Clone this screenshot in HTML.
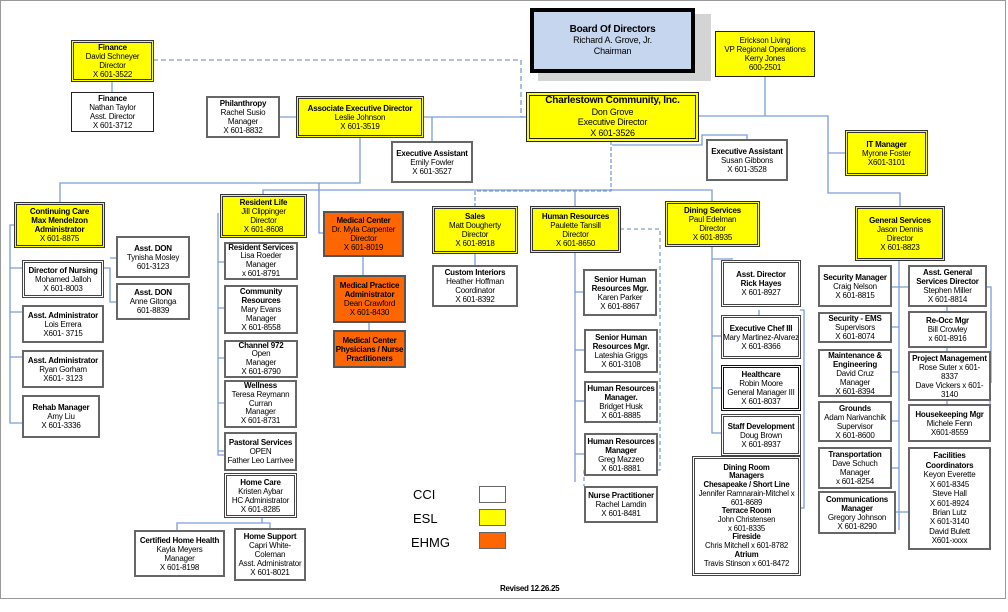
<!DOCTYPE html>
<html><head><meta charset="utf-8"><style>
body{margin:0;width:1008px;height:612px;background:#fff;position:relative;overflow:hidden;font-family:"Liberation Sans",Arial,sans-serif;}
.b{position:absolute;box-sizing:border-box;display:flex;flex-direction:column;justify-content:center;align-items:center;text-align:center;font-size:8px;line-height:9px;color:#000;letter-spacing:-0.2px;background:#fff;border:2px solid #666;white-space:nowrap;overflow:hidden}
.b b{font-weight:bold}
.y{background:#ffff00;border:3px double #333}
.o{background:#ff6600;border:2px solid #555}
.d{border:3px double #444}
.t{border:1px solid #222}
svg{position:absolute;left:0;top:0}
</style></head><body>
<svg width="1008" height="612">
<rect x="0.5" y="0.5" width="1005" height="598" fill="none" stroke="#999"/>
<g fill="none" stroke="#7a9dd6" stroke-width="1.3">
<path d="M153 60H521V117H526" stroke-dasharray="5,3"/>
<path d="M112 81V92"/>
<path d="M279 117H296M423 117H526M432 117V141"/>
<path d="M360 137V183H60V202"/>
<path d="M319 183V233H323"/>
<path d="M263 194V190H712V201M575 190V206"/>
<path d="M611 141V191H475V206" stroke-dasharray="4,2"/>
<path d="M698 116H828V193H900V206M765 116V76M828 153H845"/>
<path d="M612 145H702V135H747V139"/>
<path d="M620 229H660V470H584V486" stroke-dasharray="4,3"/>
<path d="M575 252V482M575 292H583M575 350H584M575 401H584M575 454H584"/>
<path d="M475 253V265M363 256V275M369 322V330"/>
<path d="M14 225H10V423H22M10 268H22M10 312H22M10 357H22"/>
<path d="M103 268H110V302H116M110 258H116"/>
<path d="M218 213V455H224M218 262H224M218 308H224M218 358H224M218 403H224M218 451H224"/>
<path d="M262 517V523H177V530M262 523H270V528"/>
<path d="M712 246V433H721M712 259H732V258M712 336H721M712 388H721M759 310V317H800"/>
<path d="M800 310H804V508H800"/>
<path d="M899 260V530M891 287H899M891 327H899M891 372H899M891 421H899M891 468H899M895 512H899M899 287H908"/>
<path d="M986 287H991V383M990 383V432H986M947 306V311M947 347V351M947 400V404"/>
<path d="M899 512H908"/>
</g>
</svg>
<div class="b" style="top:14px;left:538px;width:173px;height:67px;background:#d4d4d4;border:none"></div>
<div class="b" style="left:530px;top:8px;width:165px;height:65px;background:#c5d6ee;border:4px solid #000;font-size:9px;line-height:11px"><b style="font-size:10px">Board Of Directors</b>Richard A. Grove, Jr.<br>Chairman</div>
<div class="b y" style="left:715px;top:31px;width:100px;height:46px;border:1px solid #222">Erickson Living<br>VP Regional Operations<br>Kerry Jones<br>600-2501</div>
<div class="b y" style="left:71px;top:40px;width:83px;height:42px"><b>Finance</b>David Schneyer<br>Director<br>X 601-3522</div>
<div class="b t" style="left:71px;top:92px;width:83px;height:40px;border-width:1px"><b>Finance</b>Nathan Taylor<br>Asst. Director<br>X 601-3712</div>
<div class="b" style="left:206px;top:96px;width:74px;height:42px"><b>Philanthropy</b>Rachel Susio<br>Manager<br>X 601-8832</div>
<div class="b y" style="left:296px;top:96px;width:128px;height:42px"><b>Associate Executive Director</b>Leslie Johnson<br>X 601-3519</div>
<div class="b" style="left:391px;top:141px;width:82px;height:42px"><b>Executive Assistant</b>Emily Fowler<br>X 601-3527</div>
<div class="b y" style="left:526px;top:92px;width:173px;height:50px;border:4px double #222;font-size:9px;line-height:10.5px"><b style="font-size:10px">Charlestown Community, Inc.</b>Don Grove<br>Executive Director<br>X 601-3526</div>
<div class="b" style="left:706px;top:139px;width:82px;height:42px"><b>Executive Assistant</b>Susan Gibbons<br>X 601-3528</div>
<div class="b y" style="left:845px;top:130px;width:83px;height:46px"><b>IT Manager</b>Myrone Foster<br>X601-3101</div>
<div class="b y" style="left:14px;top:202px;width:91px;height:46px"><b>Continuing Care</b><b>Max Mendelzon</b><b>Administrator</b>X 601-8875</div>
<div class="b d" style="left:22px;top:260px;width:82px;height:38px"><b>Director of Nursing</b>Mohamed Jalloh<br>X 601-8003</div>
<div class="b" style="left:116px;top:236px;width:74px;height:42px"><b>Asst. DON</b>Tynisha Mosley<br>601-3123</div>
<div class="b" style="left:116px;top:283px;width:74px;height:37px"><b>Asst. DON</b>Anne Gitonga<br>601-8839</div>
<div class="b" style="left:22px;top:305px;width:82px;height:38px"><b>Asst. Administrator</b>Lois Errera<br>X601- 3715</div>
<div class="b" style="left:22px;top:350px;width:82px;height:38px"><b>Asst. Administrator</b>Ryan Gorham<br>X601- 3123</div>
<div class="b" style="left:22px;top:395px;width:78px;height:43px"><b>Rehab Manager</b>Amy Liu<br>X 601-3336</div>
<div class="b y" style="left:220px;top:194px;width:87px;height:44px"><b>Resident Life</b>Jill Clippinger<br>Director<br>X 601-8608</div>
<div class="b" style="left:224px;top:242px;width:74px;height:38px;line-height:8.6px"><b>Resident Services</b>Lisa Roeder<br>Manager<br>x 601-8791</div>
<div class="b" style="left:224px;top:285px;width:74px;height:49px"><b>Community</b><b>Resources</b>Mary Evans<br>Manager<br>X 601-8558</div>
<div class="b" style="left:224px;top:340px;width:74px;height:38px;line-height:8.6px"><b>Channel 972</b>Open<br>Manager<br>X 601-8790</div>
<div class="b" style="left:224px;top:380px;width:73px;height:48px;line-height:8.8px"><b>Wellness</b>Teresa Reymann<br>Curran<br>Manager<br>X 601-8731</div>
<div class="b" style="left:224px;top:432px;width:73px;height:39px"><b>Pastoral Services</b>OPEN<br>Father Leo Larrivee</div>
<div class="b d" style="left:224px;top:473px;width:73px;height:45px"><b>Home Care</b>Kristen Aybar<br>HC Administrator<br>X 601-8285</div>
<div class="b" style="left:134px;top:530px;width:91px;height:47px"><b>Certified Home Health</b>Kayla Meyers<br>Manager<br>X 601-8198</div>
<div class="b" style="left:234px;top:528px;width:72px;height:53px"><b>Home Support</b>Capri White-<br>Coleman<br>Asst. Administrator<br>X 601-8021</div>
<div class="b o" style="left:323px;top:211px;width:81px;height:46px"><b>Medical Center</b>Dr. Myla Carpenter<br>Director<br>X 601-8019</div>
<div class="b o" style="left:333px;top:275px;width:73px;height:48px"><b>Medical Practice</b><b>Administrator</b>Dean Crawford<br>X 601-8430</div>
<div class="b o" style="left:333px;top:330px;width:73px;height:38px"><b>Medical Center</b><b>Physicians / Nurse</b><b>Practitioners</b></div>
<div class="b y" style="left:432px;top:206px;width:86px;height:48px"><b>Sales</b>Matt Dougherty<br>Director<br>X 601-8918</div>
<div class="b" style="left:432px;top:265px;width:86px;height:42px"><b>Custom Interiors</b>Heather Hoffman<br>Coordinator<br>X 601-8392</div>
<div class="b y" style="left:530px;top:206px;width:91px;height:47px"><b>Human Resources</b>Paulette Tansill<br>Director<br>X 601-8650</div>
<div class="b" style="left:583px;top:269px;width:74px;height:47px"><b>Senior Human</b><b>Resources Mgr.</b>Karen Parker<br>X 601-8867</div>
<div class="b" style="left:584px;top:329px;width:74px;height:44px"><b>Senior Human</b><b>Resources Mgr.</b>Lateshia Griggs<br>X 601-3108</div>
<div class="b" style="left:584px;top:381px;width:74px;height:42px"><b>Human Resources</b><b>Manager.</b>Bridget Husk<br>X 601-8885</div>
<div class="b" style="left:584px;top:433px;width:74px;height:43px"><b>Human Resources</b><b>Manager</b>Greg Mazzeo<br>X 601-8881</div>
<div class="b" style="left:584px;top:486px;width:74px;height:37px"><b>Nurse Practitioner</b>Rachel Lamdin<br>X 601-8481</div>
<div class="b y" style="left:665px;top:201px;width:95px;height:46px"><b>Dining Services</b>Paul Edelman<br>Director<br>X 601-8935</div>
<div class="b d" style="left:721px;top:260px;width:80px;height:47px"><b>Asst. Director</b><b>Rick Hayes</b>X 601-8927</div>
<div class="b d" style="left:721px;top:315px;width:80px;height:44px"><b>Executive Chef III</b>Mary Martinez-Alvarez<br>X 601-8366</div>
<div class="b d" style="left:721px;top:365px;width:80px;height:46px;border-color:#111"><b>Healthcare</b>Robin Moore<br>General Manager III<br>X 601-8037</div>
<div class="b d" style="left:721px;top:414px;width:80px;height:42px"><b>Staff Development</b>Doug Brown<br>X 601-8937</div>
<div class="b d" style="left:692px;top:456px;width:109px;height:120px;line-height:8.7px;font-size:7.8px"><b>Dining Room</b><b>Managers</b><b>Chesapeake / Short Line</b>Jennifer Ramnarain-Mitchel x<br>601-8689<br><b>Terrace Room</b>John Christensen<br>x 601-8335<br><b>Fireside</b>Chris Mitchell x 601-8782<br><b>Atrium</b>Travis Stinson x 601-8472</div>
<div class="b y" style="left:855px;top:206px;width:90px;height:55px"><b>General Services</b>Jason Dennis<br>Director<br>X 601-8823</div>
<div class="b" style="left:818px;top:265px;width:74px;height:42px"><b>Security Manager</b>Craig Nelson<br>X 601-8815</div>
<div class="b" style="left:818px;top:312px;width:74px;height:31px"><b>Security - EMS</b>Supervisors<br>X 601-8074</div>
<div class="b" style="left:818px;top:349px;width:74px;height:48px"><b>Maintenance &amp;</b><b>Engineering</b>David Cruz<br>Manager<br>X 601-8394</div>
<div class="b" style="left:818px;top:401px;width:74px;height:41px"><b>Grounds</b>Adam Narivanchik<br>Supervisor<br>X 601-8600</div>
<div class="b" style="left:818px;top:447px;width:74px;height:42px"><b>Transportation</b>Dave Schuch<br>Manager<br>x 601-8254</div>
<div class="b" style="left:818px;top:491px;width:78px;height:43px"><b>Communications</b><b>Manager</b>Gregory Johnson<br>X 601-8290</div>
<div class="b" style="left:908px;top:265px;width:79px;height:42px"><b>Asst. General</b><b>Services Director</b>Stephen Miller<br>X 601-8814</div>
<div class="b" style="left:908px;top:311px;width:79px;height:37px"><b>Re-Occ Mgr</b>Bill Crowley<br>x 601-8916</div>
<div class="b" style="left:908px;top:351px;width:83px;height:50px"><b>Project Management</b>Rose Suter x 601-<br>8337<br>Dave Vickers x 601-<br>3140</div>
<div class="b" style="left:908px;top:404px;width:83px;height:38px"><b>Housekeeping Mgr</b>Michele Fenn<br>X601-8559</div>
<div class="b" style="left:908px;top:447px;width:83px;height:103px;line-height:9.4px"><b>Facilities</b><b>Coordinators</b>Keyon Everette<br>X 601-8345<br>Steve Hall<br>X 601-8924<br>Brian Lutz<br>X 601-3140<br>David Bulett<br>X601-xxxx</div>
<div style="position:absolute;left:413px;top:487px;font-size:13px">CCI</div>
<div style="position:absolute;left:413px;top:511px;font-size:13px">ESL</div>
<div style="position:absolute;left:411px;top:535px;font-size:13px">EHMG</div>
<div style="position:absolute;left:479px;top:486px;width:27px;height:17px;box-sizing:border-box;border:1px solid #666;background:#fff"></div>
<div style="position:absolute;left:479px;top:509px;width:27px;height:17px;box-sizing:border-box;border:1px solid #666;background:#ffff00"></div>
<div style="position:absolute;left:479px;top:532px;width:27px;height:17px;box-sizing:border-box;border:1px solid #666;background:#ff6600"></div>
<div style="position:absolute;left:500px;top:584px;font-size:8px;font-weight:bold;letter-spacing:-0.3px">Revised 12.26.25</div>
</body></html>
